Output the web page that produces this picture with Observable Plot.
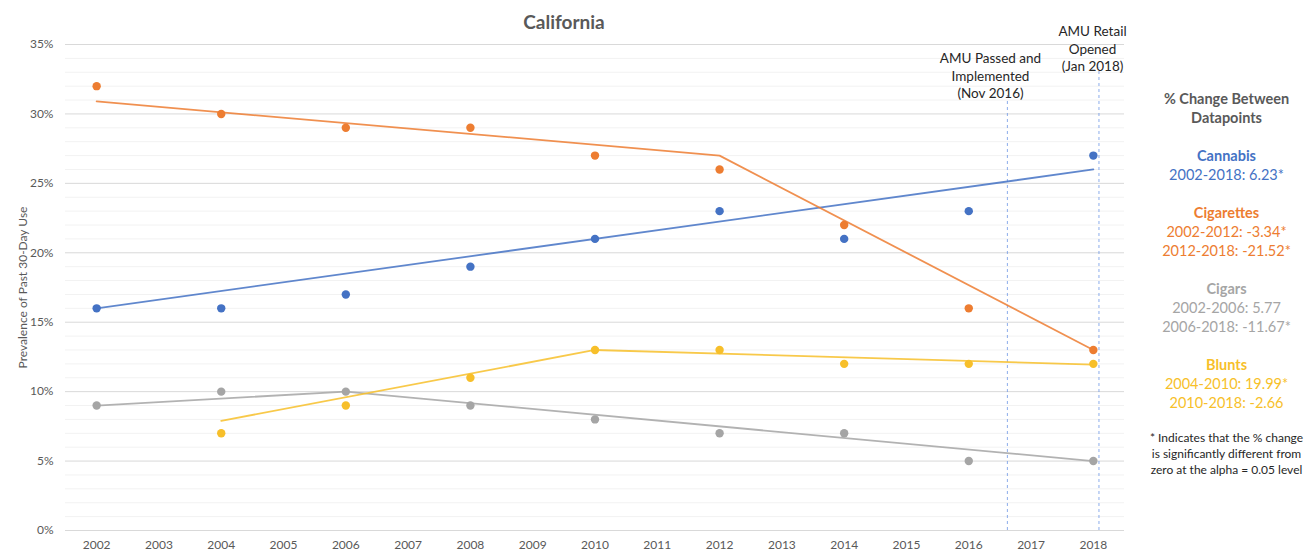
<!DOCTYPE html>
<html><head><meta charset="utf-8">
<script src="https://cdn.jsdelivr.net/npm/d3@7"></script>
<script src="https://cdn.jsdelivr.net/npm/@observablehq/plot@0.6"></script>
<style>body{margin:0;background:#fff;font-family:Lato,sans-serif}</style>
</head><body><div id="chart"></div>
<script>
const years = [2002, 2004, 2006, 2008, 2010, 2012, 2014, 2016, 2018];
const cannabis   = [16, 16, 17, 19, 21, 23, 21, 23, 27];
const cigarettes = [32, 30, 29, 29, 27, 26, 22, 16, 13];
const cigars     = [9, 10, 10, 9, 8, 7, 7, 5, 5];
const blunts     = [null, 7, 9, 11, 13, 13, 12, 12, 12];

const trendCannabisYears = [2002, 2018], trendCannabisVals = [16.0, 26.0];
const trendCigarettesYears = [2002, 2012, 2018], trendCigarettesVals = [30.9, 27.0, 13.0];
const trendCigarsYears = [2002, 2006, 2018], trendCigarsVals = [9.0, 10.0, 5.0];
const trendBluntsYears = [2004, 2010, 2018], trendBluntsVals = [7.9, 13.0, 11.95];

const eventYears = [2016.62, 2018.09];
const eventTops = [31.5, 33.3];
const eventLabels = [["AMU Passed and", "Implemented", "(Nov 2016)"], ["AMU Retail", "Opened", "(Jan 2018)"]];

const yTicks = [0, 5, 10, 15, 20, 25, 30, 35];
const xTicks = d3.range(2002, 2019);

const seriesNames = ["Cannabis", "Cigarettes", "Cigars", "Blunts"];
const seriesColors = ["#4472C4", "#ED7D31", "#A5A5A5", "#F7BF2A"];
const seriesValues = [cannabis, cigarettes, cigars, blunts];
const trendYears = [trendCannabisYears, trendCigarettesYears, trendCigarsYears, trendBluntsYears];
const trendVals = [trendCannabisVals, trendCigarettesVals, trendCigarsVals, trendBluntsVals];

const panelHeader = ["% Change Between", "Datapoints"];
const panelStats = [
  ["2002-2018: 6.23*"],
  ["2002-2012: -3.34*", "2012-2018: -21.52*"],
  ["2002-2006: 5.77", "2006-2018: -11.67*"],
  ["2004-2010: 19.99*", "2010-2018: -2.66"]
];
const footnote = ["* Indicates that the % change", "is significantly different from", "zero at the alpha = 0.05 level"];

const points = [];
seriesNames.forEach((s, i) => years.forEach((y, j) => {
  if (seriesValues[i][j] != null) points.push({series: s, year: y, value: seriesValues[i][j]});
}));
const trends = [];
seriesNames.forEach((s, i) => trendYears[i].forEach((y, j) => trends.push({series: s, year: y, value: trendVals[i][j]})));
const events = eventYears.map((y, i) => ({year: y, top: eventTops[i]}));

const marginTop = 44, marginRight = 191;
const panelX = 1226 - (1315 - marginRight);
const txt = (text, yc, opts) => Plot.text([text], {
  text: d => d, frameAnchor: "top-right", dx: panelX, dy: yc - marginTop,
  textAnchor: "middle", fontFamily: "Lato, sans-serif", ...opts
});

const panelMarks = [];
panelMarks.push(txt(panelHeader[0], 93, {fontSize: 14.5, fontWeight: "bold", fill: "#595959"}));
panelMarks.push(txt(panelHeader[1], 112, {fontSize: 14.5, fontWeight: "bold", fill: "#595959"}));
const groupTop = [150, 207, 283, 359];
seriesNames.forEach((s, i) => {
  panelMarks.push(txt(s, groupTop[i], {fontSize: 14.5, fontWeight: "bold", fill: seriesColors[i]}));
  panelStats[i].forEach((line, k) => panelMarks.push(txt(line, groupTop[i] + 19 * (k + 1), {fontSize: 14.5, fill: seriesColors[i]})));
});
footnote.forEach((line, k) => panelMarks.push(txt(line, 433 + 16 * k, {fontSize: 12, fill: "#262626"})));

const eventTextX = [990, 1092];
const eventTextY = [53, 26];
const eventMarks = [];
eventLabels.forEach((lines, i) => lines.forEach((line, k) => eventMarks.push(
  Plot.text([line], {text: d => d, frameAnchor: "top-left", dx: eventTextX[i] - 65, dy: eventTextY[i] + 17.5 * k - marginTop,
    textAnchor: "middle", fontSize: 13.5, fill: "#262626", fontFamily: "Lato, sans-serif"})
)));

const chart = Plot.plot({
  width: 1315, height: 556,
  marginLeft: 65, marginRight, marginTop, marginBottom: 26,
  style: {fontFamily: "Lato, sans-serif", fontSize: "12px", color: "#595959", background: "#fff"},
  x: {domain: [2001.5, 2018.5], ticks: xTicks, tickFormat: d => String(d), tickSize: 0, tickPadding: 10, label: null},
  y: {domain: [0, 35], ticks: yTicks, tickFormat: d => d + "%", tickSize: 0, tickPadding: 12,
      label: "Prevalence of Past 30-Day Use", labelAnchor: "center", labelArrow: "none", labelOffset: 47},
  color: {domain: seriesNames, range: seriesColors},
  marks: [
    Plot.gridY(d3.range(0, 36, 1).filter(d => d % 5 !== 0), {stroke: "#f2f2f2", strokeOpacity: 1, strokeWidth: 1}),
    Plot.gridY(yTicks, {stroke: "#d9d9d9", strokeOpacity: 1, strokeWidth: 1}),
    Plot.ruleX(events, {x: "year", y1: 0, y2: "top", stroke: "#6F97E6", strokeOpacity: 0.8, strokeWidth: 1, strokeDasharray: "3,3"}),
    Plot.line(trends, {x: "year", y: "value", z: "series", stroke: "series", strokeWidth: 1.8, strokeOpacity: 0.85}),
    Plot.dot(points, {x: "year", y: "value", fill: "series", r: 4.2}),
    Plot.text(["California"], {text: d => d, frameAnchor: "top", dx: -31, dy: -29, fontSize: 19, fontWeight: "bold", fill: "#595959", fontFamily: "Lato, sans-serif"}),
    ...eventMarks,
    ...panelMarks
  ]
});
document.getElementById("chart").append(chart);
</script>
</body></html>
